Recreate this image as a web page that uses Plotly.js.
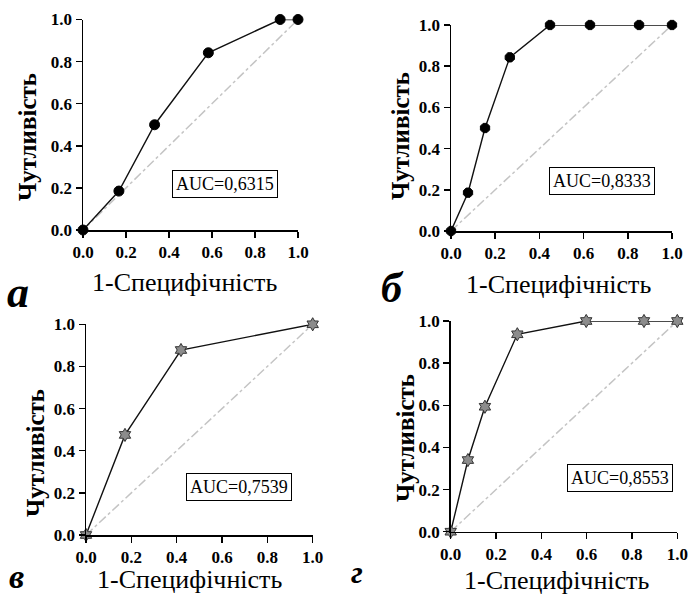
<!DOCTYPE html>
<html>
<head>
<meta charset="utf-8">
<script src="https://cdn.plot.ly/plotly-3.0.1.min.js"></script>
<style>
  html, body { margin: 0; padding: 0; background: #fff; }
  #chart { width: 688px; height: 597px; }
</style>
</head>
<body>
<div id="chart"></div>
<script>
// ROC curves: 1-specificity (false positive rate) vs sensitivity
const fprA = [0, 0.167, 0.333, 0.583, 0.917, 1.0];
const tprA = [0, 0.185, 0.5, 0.842, 1.0, 1.0];

const fprB = [0, 0.077, 0.154, 0.266, 0.448, 0.629, 0.851, 1.0];
const tprB = [0, 0.186, 0.5, 0.843, 1.0, 1.0, 1.0, 1.0];

const fprV = [0, 0.172, 0.419, 1.0];
const tprV = [0, 0.475, 0.878, 1.0];

const fprG = [0, 0.076, 0.151, 0.294, 0.598, 0.853, 1.0];
const tprG = [0, 0.34, 0.593, 0.937, 1.0, 1.0, 1.0];

const aucLabels = ["AUC=0,6315", "AUC=0,8333", "AUC=0,7539", "AUC=0,8553"];
const panelLetters = ["а", "б", "в", "г"];
const xTitle = "1-Специфічність";
const yTitle = "Чутливість";
const tickVals = [0, 0.2, 0.4, 0.6, 0.8, 1.0];
const tickText = ["0.0", "0.2", "0.4", "0.6", "0.8", "1.0"];
const diagonal = [0, 1];

const W = 688, H = 597;
const SERIF = 'Liberation Serif';

// plot boxes in pixels: [left, top, right, bottom]
const boxes = [
  [83, 19.5, 298, 230],
  [451, 25, 672, 231],
  [86, 324.3, 312.7, 535],
  [450.7, 321, 677.3, 531.7]
];

const series = [
  { x: fprA, y: tprA, symbol: 'circle', fill: '#000', line: '#000', size: 10 },
  { x: fprB, y: tprB, symbol: 'octagon', fill: '#000', line: '#000', size: 10 },
  { x: fprV, y: tprV, symbol: 'hexagram', fill: '#8c8c8c', line: '#333', size: 10 },
  { x: fprG, y: tprG, symbol: 'hexagram', fill: '#8c8c8c', line: '#333', size: 10 }
];

const traces = [];
const layout = {
  width: W, height: H,
  margin: { l: 0, r: 0, t: 0, b: 0 },
  paper_bgcolor: '#fff', plot_bgcolor: '#fff',
  showlegend: false,
  font: { family: SERIF, color: '#000' },
  annotations: []
};

const px = (x, y) => ({ x: x / W, y: 1 - y / H });

series.forEach((s, i) => {
  const n = i + 1;
  const xa = 'x' + (n === 1 ? '' : n);
  const ya = 'y' + (n === 1 ? '' : n);
  // chance diagonal
  traces.push({
    x: diagonal, y: diagonal, xaxis: xa, yaxis: ya,
    mode: 'lines', hoverinfo: 'skip',
    line: { color: '#c4c4c4', width: 1.5, dash: 'dashdot' }
  });
  // ROC curve
  traces.push({
    x: s.x, y: s.y, xaxis: xa, yaxis: ya,
    mode: 'lines+markers', cliponaxis: false,
    line: { color: '#111', width: 1.4 },
    marker: { symbol: s.symbol, size: s.size, color: s.fill, line: { color: s.line, width: 1 } }
  });

  const b = boxes[i];
  const common = {
    range: [0, 1],
    showgrid: false, zeroline: false, showline: true, linecolor: '#000', linewidth: 1.5,
    ticks: 'outside', ticklen: 6, tickwidth: 1.5, tickcolor: '#000',
    tickvals: tickVals, ticktext: tickText.map(t => '<b>' + t + '</b>'),
    tickfont: { family: SERIF, size: 17, color: '#000' }
  };
  layout['xaxis' + (n === 1 ? '' : n)] = Object.assign({ domain: [b[0] / W, b[2] / W], anchor: ya }, common);
  layout['yaxis' + (n === 1 ? '' : n)] = Object.assign({ domain: [1 - b[3] / H, 1 - b[1] / H], anchor: xa }, common);
});

// axis titles: x-title centres and y-title centres, in pixels
const xTitlePos = [[185, 282], [558, 284], [189, 579], [556, 580]];
const yTitlePos = [[27, 137], [400, 136], [35, 453], [405, 438]];
xTitlePos.forEach(p => {
  layout.annotations.push(Object.assign(px(p[0], p[1]), {
    xref: 'paper', yref: 'paper', xanchor: 'center', yanchor: 'middle', showarrow: false,
    borderpad: 0,
    text: xTitle, font: { family: SERIF, size: 26, color: '#000' }
  }));
});
yTitlePos.forEach(p => {
  layout.annotations.push(Object.assign(px(p[0], p[1]), {
    xref: 'paper', yref: 'paper', xanchor: 'center', yanchor: 'middle', showarrow: false,
    textangle: -90, text: '<b>' + yTitle + '</b>',
    font: { family: SERIF, size: 25, color: '#000' }
  }));
});

// AUC boxes: [centre x, centre y] in pixels
const aucPos = [[225, 184], [602, 181], [239, 487], [620, 478]];
aucPos.forEach((p, i) => {
  layout.annotations.push(Object.assign(px(p[0], p[1]), {
    xref: 'paper', yref: 'paper', xanchor: 'center', yanchor: 'middle', showarrow: false,
    text: aucLabels[i],
    font: { family: SERIF, size: 18, color: '#000' },
    bordercolor: '#000', borderwidth: 1, borderpad: 3, bgcolor: '#fff'
  }));
});

// panel letters: [left x, centre y, size]
const letterPos = [[6, 292, 44], [380, 288, 42], [8, 576, 34], [350, 572, 32]];
letterPos.forEach((p, i) => {
  layout.annotations.push(Object.assign(px(p[0], p[1]), {
    xref: 'paper', yref: 'paper', xanchor: 'left', yanchor: 'middle', showarrow: false,
    borderpad: 0,
    text: '<b><i>' + panelLetters[i] + '</i></b>',
    font: { family: SERIF, size: p[2], color: '#000' }
  }));
});

Plotly.newPlot('chart', traces, layout, { staticPlot: true });
</script>
</body>
</html>
